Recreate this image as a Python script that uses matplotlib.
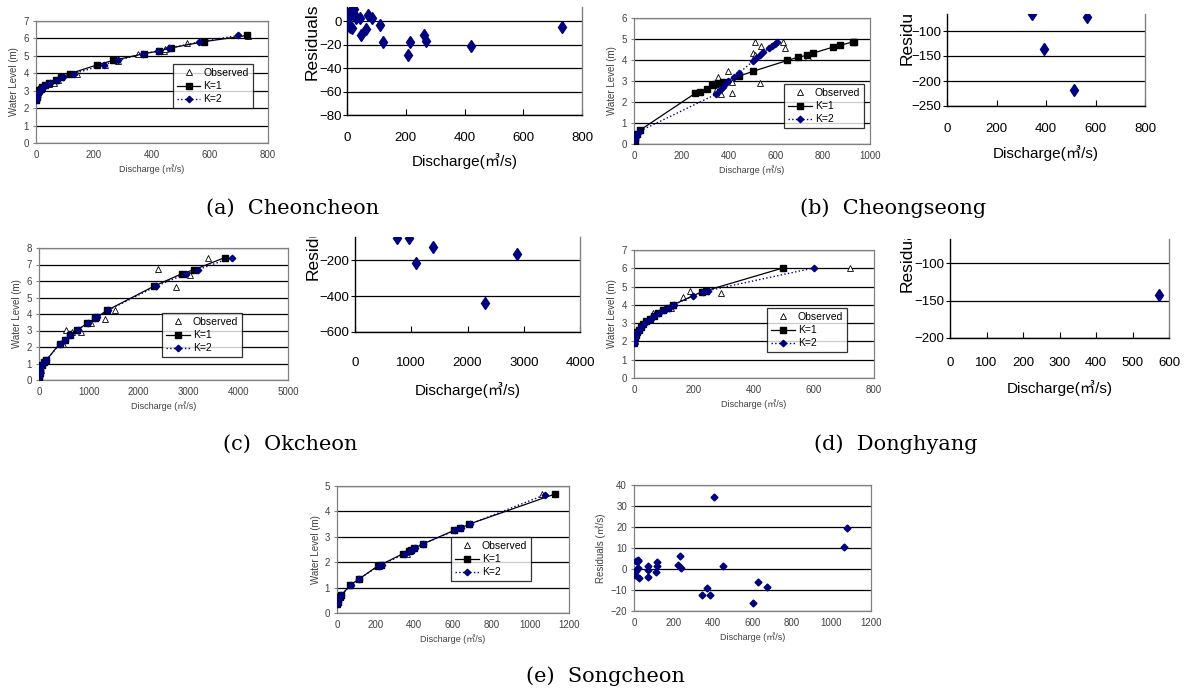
import matplotlib
matplotlib.use('Agg')
import matplotlib.pyplot as plt
from matplotlib.transforms import Bbox, TransformedBbox

# ---------------- data ----------------
# (a) Cheoncheon
a_obs_q = [0, 1, 3, 5, 9, 14, 20, 28, 45, 63, 75, 140, 239, 283, 352, 443, 446, 519, 730]
a_obs_h = [2.45, 2.6, 2.7, 2.9, 3.0, 3.1, 3.2, 3.3, 3.4, 3.42, 3.6, 3.98, 4.48, 4.7, 5.12, 5.28, 5.42, 5.74, 6.12]
a_k1_q = [0, 1, 2, 3, 5, 8, 12, 17, 22, 30, 45, 68, 86, 117, 212, 266, 372, 425, 464, 578, 728]
a_k1_h = [2.45, 2.55, 2.65, 2.75, 2.85, 2.95, 3.05, 3.12, 3.2, 3.3, 3.45, 3.62, 3.79, 3.98, 4.49, 4.74, 5.12, 5.28, 5.45, 5.81, 6.17]
a_k2_q = [0, 1, 2, 4, 6, 9, 13, 18, 24, 33, 48, 72, 92, 130, 235, 282, 370, 420, 460, 561, 697]
a_k2_h = [2.45, 2.55, 2.65, 2.75, 2.85, 2.95, 3.05, 3.12, 3.2, 3.3, 3.45, 3.62, 3.76, 3.98, 4.49, 4.74, 5.12, 5.28, 5.45, 5.79, 6.17]
a_res_q = [0, 1, 3, 6, 11, 17, 9, 17, 23, 25, 29, 43, 48, 65, 72, 86, 114, 121, 208, 215, 261, 270, 422, 731]
a_res_v = [0, -1, 2, -4, -5, -6, 8, 10, 10, 6, 3, 3, -12, -7, 5, 3, -3, -18, -29, -18, -12, -17, -21, -5]

# (b) Cheongseong
b_obs_q = [355, 400, 417, 415, 370, 348, 511, 504, 513, 539, 532, 633, 640, 736]
b_obs_h = [3.18, 3.46, 2.93, 2.45, 2.37, 2.58, 4.86, 4.33, 4.22, 4.68, 2.9, 4.86, 4.57, 4.14]
b_k1_q = [3, 6, 13, 27, 260, 278, 309, 330, 344, 358, 375, 443, 504, 650, 697, 732, 760, 845, 873, 927, 934]
b_k1_h = [0.1, 0.35, 0.5, 0.67, 2.42, 2.48, 2.61, 2.79, 2.85, 2.9, 2.95, 3.22, 3.46, 3.98, 4.14, 4.22, 4.33, 4.62, 4.7, 4.86, 4.86]
b_k2_q = [3, 7, 12, 20, 348, 365, 377, 386, 400, 422, 447, 506, 516, 532, 546, 570, 584, 598, 605]
b_k2_h = [0.19, 0.35, 0.47, 0.59, 2.37, 2.55, 2.7, 2.87, 2.98, 3.18, 3.4, 3.96, 4.09, 4.25, 4.36, 4.55, 4.65, 4.76, 4.86]
b_res_q = [343, 390, 515, 565]
b_res_v = [-66, -135, -217, -71]

# (c) Okcheon
c_obs_q = [5, 40, 120, 482, 549, 670, 838, 1052, 1320, 1521, 2392, 2760, 3042, 3397]
c_obs_h = [0.3, 0.6, 1.15, 2.2, 3.06, 2.92, 2.92, 3.43, 3.67, 4.23, 6.71, 5.64, 6.39, 7.42]
c_k1_q = [0, 13, 27, 67, 100, 147, 415, 516, 616, 764, 965, 1119, 1152, 1373, 2312, 2874, 3116, 3732]
c_k1_h = [0.2, 0.45, 0.6, 0.9, 1.1, 1.2, 2.2, 2.42, 2.72, 3.02, 3.43, 3.73, 3.79, 4.23, 5.69, 6.45, 6.69, 7.42]
c_k2_q = [0, 15, 30, 70, 105, 150, 420, 520, 620, 780, 980, 1130, 1170, 1390, 2358, 2961, 3196, 3866]
c_k2_h = [0.2, 0.45, 0.6, 0.9, 1.1, 1.2, 2.2, 2.42, 2.72, 3.02, 3.43, 3.73, 3.79, 4.23, 5.69, 6.45, 6.69, 7.42]
c_res_q = [741, 960, 1084, 1381, 2317, 2886]
c_res_v = [-76, -76, -218, -130, -437, -167]

# (d) Donghyang
d_obs_q = [2, 8, 20, 45, 63, 100, 124, 163, 186, 291, 719]
d_obs_h = [2.0, 2.4, 2.8, 3.2, 3.55, 3.75, 3.85, 4.45, 4.76, 4.67, 6.02]
d_k1_q = [0, 1, 3, 6, 10, 15, 22, 30, 40, 52, 65, 80, 95, 112, 130, 228, 241, 497]
d_k1_h = [1.9, 2.05, 2.2, 2.35, 2.5, 2.65, 2.8, 2.95, 3.1, 3.25, 3.4, 3.55, 3.7, 3.85, 4.0, 4.73, 4.78, 6.02]
d_k2_q = [0, 1, 3, 6, 11, 16, 24, 32, 42, 55, 68, 83, 99, 116, 132, 197, 230, 247, 600]
d_k2_h = [1.9, 2.05, 2.2, 2.35, 2.5, 2.65, 2.8, 2.95, 3.1, 3.25, 3.4, 3.55, 3.7, 3.85, 4.0, 4.49, 4.69, 4.78, 6.02]
d_res_q = [573]
d_res_v = [-142]

# (e) Songcheon
e_obs_q = [0, 3, 14, 21, 69, 112, 215, 230, 360, 380, 365, 395, 447, 607, 636, 684, 1060]
e_obs_h = [0.36, 0.45, 0.63, 0.7, 1.09, 1.33, 1.85, 1.9, 2.33, 2.43, 2.5, 2.55, 2.72, 3.25, 3.33, 3.5, 4.68]
e_k1_q = [0, 3, 14, 21, 69, 112, 211, 227, 340, 370, 385, 400, 445, 605, 636, 684, 1126]
e_k1_h = [0.34, 0.43, 0.63, 0.7, 1.09, 1.33, 1.85, 1.9, 2.33, 2.43, 2.5, 2.55, 2.72, 3.25, 3.33, 3.5, 4.68]
e_k2_q = [0, 4, 15, 22, 70, 113, 215, 232, 350, 375, 388, 402, 447, 610, 640, 688, 1074]
e_k2_h = [0.34, 0.43, 0.63, 0.7, 1.09, 1.33, 1.85, 1.9, 2.33, 2.43, 2.5, 2.55, 2.72, 3.25, 3.33, 3.5, 4.65]
e_res_q = [2, 5, 8, 8, 14, 19, 22, 19, 25, 69, 69, 73, 110, 115, 118, 224, 233, 238, 344, 368, 385, 405, 449, 601, 630, 675, 1065, 1077]
e_res_v = [-2, -2.7, -1.1, 3.6, 0, 3.6, 4.4, 0.4, -4.3, 1.6, -3.8, -0.7, -1.6, 1.3, 3.1, 2, 6, 0.4, -12.5, -9, -12.2, 34.1, 1.6, -16.2, -6.2, -8.7, 10.7, 19.7]

captions = ['(a)  Cheoncheon', '(b)  Cheongseong', '(c)  Okcheon', '(d)  Donghyang', '(e)  Songcheon']

# ---------------- figure ----------------
W, H = 1191, 693
fig = plt.figure(figsize=(W / 100, H / 100), dpi=100)

SANS = ['Liberation Sans', 'Noto Sans CJK KR']
NARROW = ['Liberation Sans Narrow', 'Liberation Sans', 'Noto Sans CJK KR']
NAVY = '#00007f'
GRAY = '#404040'


def ax_px(x1, y1, x2, y2):
    return fig.add_axes([x1 / W, 1 - y2 / H, (x2 - x1) / W, (y2 - y1) / H])


def rating(box, oq, oh, k1q, k1h, k2q, k2h, xmax, xstep, ymax, leg):
    ax = ax_px(*box)
    l0, = ax.plot(oq, oh, ls='none', marker='^', ms=4, mfc='white', mec='black', mew=0.6, zorder=3)
    l1, = ax.plot(k1q, k1h, '-', color='black', lw=0.9, marker='s', ms=4.3, mfc='black', mec='black', zorder=4)
    l2, = ax.plot(k2q, k2h, ':', color=NAVY, lw=1.0, marker='D', ms=3.3, mfc=NAVY, mec=NAVY, zorder=5)
    ax.set_xlim(0, xmax)
    ax.set_ylim(0, ymax)
    ax.set_xticks(range(0, xmax + 1, xstep))
    ax.set_yticks(range(0, ymax + 1))
    ax.yaxis.grid(True, color='black', lw=0.9)
    ax.set_axisbelow(True)
    for s in ax.spines.values():
        s.set_color('#808080')
        s.set_linewidth(0.9)
    ax.tick_params(axis='both', labelsize=7, colors=GRAY, length=0, pad=5)
    ax.tick_params(axis='y', length=2, pad=3, color='#808080')
    for t in ax.get_xticklabels() + ax.get_yticklabels():
        t.set_fontfamily(SANS)
    ax.set_xlabel('Discharge (㎥/s)', fontsize=6.5, color=GRAY, family=SANS, labelpad=3)
    ax.set_ylabel('Water Level (m)', fontsize=7, color=GRAY, family=SANS, labelpad=3)
    lg = ax.legend([l0, l1, l2], ['Observed', 'K=1', 'K=2'], loc='lower left',
                   bbox_to_anchor=leg, prop={'family': SANS, 'size': 7.5},
                   frameon=True, fancybox=False, borderaxespad=0, handlelength=2.3,
                   labelspacing=0.3, borderpad=0.35, handletextpad=0.3)
    lg.get_frame().set_edgecolor('black')
    lg.get_frame().set_linewidth(0.9)
    return ax


def resid(box, q, v, xmax, xstep, ylo, yhi, ystep, xpad, lab_y, lab_x, xl_y, clip_top):
    ax = ax_px(*box)
    ax.plot(q, v, ls='none', marker='d', ms=6.5, mfc=NAVY, mec=NAVY, zorder=4)
    ax.set_xlim(0, xmax)
    ax.set_ylim(ylo, yhi)
    ax.set_xticks(range(0, xmax + 1, xstep))
    ax.set_yticks([t for t in range(ylo, 1, ystep) if t <= yhi])
    ax.yaxis.grid(True, color='black', lw=0.9)
    ax.set_axisbelow(True)
    ax.spines['top'].set_visible(False)
    ax.spines['right'].set_color('#808080')
    ax.spines['left'].set_color('black')
    ax.spines['bottom'].set_color('black')
    for s in ax.spines.values():
        s.set_linewidth(1.0)
    ax.tick_params(axis='x', direction='in', length=4, labelsize=9.5, colors='black', pad=xpad)
    ax.tick_params(axis='y', direction='out', length=3, labelsize=9.5, colors='black', pad=1)
    for t in ax.get_xticklabels() + ax.get_yticklabels():
        t.set_fontfamily(NARROW)
    yl = ax.set_ylabel('Residuals', fontsize=12.5, family=NARROW)
    ax.yaxis.set_label_coords(lab_x, lab_y)
    if clip_top is not None:
        bb = TransformedBbox(Bbox([[0, 0], [1, 1 - clip_top / H]]), fig.transFigure)
        yl.set_clip_box(bb)
        yl.set_clip_on(True)
    fig.text((box[0] + box[2]) / 2 / W, 1 - xl_y / H, 'Discharge(㎥/s)', ha='center', va='center',
             fontsize=11, family=NARROW)
    return ax


# (a)
rating((36, 21, 268, 143), a_obs_q, a_obs_h, a_k1_q, a_k1_h, a_k2_q, a_k2_h, 800, 200, 7,
       (0.59, 0.287))
resid((347, 7, 582, 115), a_res_q, a_res_v, 800, 200, -80, 12, 20, 12, 0.676, -0.115, 161, None)

# (b)
rating((634, 18, 870, 144), b_obs_q, b_obs_h, b_k1_q, b_k1_h, b_k2_q, b_k2_h, 1000, 200, 6,
       (0.636, 0.127))
resid((947, 14, 1145, 106), b_res_q, b_res_v, 800, 200, -250, -66, 50, 12, 0.86, -0.165, 153, 14)

# (c)
rating((39, 248, 288, 380), c_obs_q, c_obs_h, c_k1_q, c_k1_h, c_k2_q, c_k2_h, 5000, 1000, 8,
       (0.494, 0.174))
resid((355, 237, 580, 332), c_res_q, c_res_v, 4000, 1000, -600, -72, 200, 18, 0.947, -0.151, 390, 237)

# (d)
rating((634, 250, 874, 378), d_obs_q, d_obs_h, d_k1_q, d_k1_h, d_k2_q, d_k2_h, 800, 200, 7,
       (0.554, 0.203))
resid((950, 239, 1169, 338), d_res_q, d_res_v, 600, 100, -200, -68, 50, 14, 0.85, -0.16, 388, 239)

# (e)
rating((337, 486, 569, 613), e_obs_q, e_obs_h, e_k1_q, e_k1_h, e_k2_q, e_k2_h, 1200, 200, 5,
       (0.491, 0.252))
ax = ax_px(634, 485, 871, 611)
ax.plot(e_res_q, e_res_v, ls='none', marker='D', ms=3.5, mfc=NAVY, mec=NAVY, zorder=4)
ax.set_xlim(0, 1200)
ax.set_ylim(-20, 40)
ax.set_xticks(range(0, 1201, 200))
ax.set_yticks(range(-20, 41, 10))
ax.yaxis.grid(True, color='black', lw=0.9)
ax.set_axisbelow(True)
for s in ax.spines.values():
    s.set_color('#808080')
    s.set_linewidth(0.9)
ax.tick_params(axis='both', labelsize=7, colors=GRAY, length=0, pad=5)
ax.tick_params(axis='y', length=2, pad=3, color='#808080')
for t in ax.get_xticklabels() + ax.get_yticklabels():
    t.set_fontfamily(SANS)
ax.set_xlabel('Discharge (㎥/s)', fontsize=6.5, color=GRAY, family=SANS, labelpad=3)
ax.set_ylabel('Residuals (㎥/s)', fontsize=7, color=GRAY, family=SANS, labelpad=3)

# captions
cap_pos = [(293, 208), (893, 208), (290, 444), (896, 444), (605, 676)]
for (cx, cy), txt in zip(cap_pos, captions):
    fig.text(cx / W, 1 - cy / H, txt, ha='center', va='center', fontsize=15,
             family=['DejaVu Serif', 'Liberation Serif'])

fig.savefig('out.png', dpi=100)
